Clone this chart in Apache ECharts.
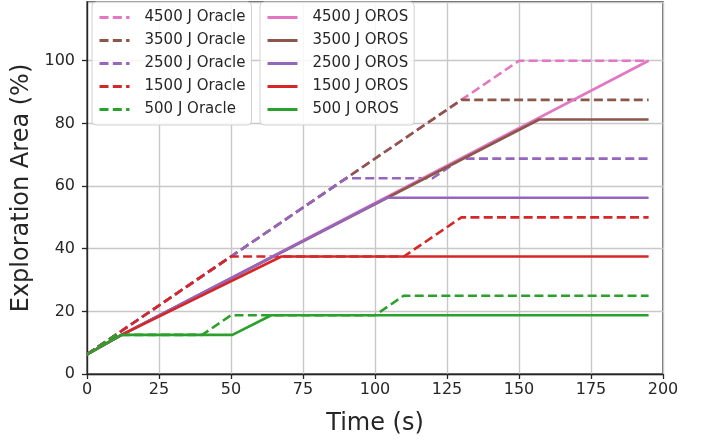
<!DOCTYPE html>
<html>
<head>
<meta charset="utf-8">
<script src="https://cdn.jsdelivr.net/npm/echarts@6/dist/echarts.min.js"></script>
<style>
  html, body { margin: 0; padding: 0; background: #fff; }
  #main { width: 708px; height: 441px; }
</style>
</head>
<body>
<div id="main"></div>
<script>
// time (s) / area (%) breakpoints
var oracle4500T = [0, 150, 195];
var oracle4500V = [6.25, 100, 100];
var oracle3500T = [0, 130, 195];
var oracle3500V = [6.25, 87.5, 87.5];
var oracle2500T = [0, 90, 120, 130, 195];
var oracle2500V = [6.25, 62.5, 62.5, 68.75, 68.75];
var oracle1500T = [0, 50, 110, 130, 195];
var oracle1500V = [6.25, 37.5, 37.5, 50, 50];
var oracle500T = [0, 10, 40, 50, 100, 110, 195];
var oracle500V = [6.25, 12.5, 12.5, 18.75, 18.75, 25, 25];

var oros4500T = [0, 12, 195];
var oros4500V = [6.25, 12.5, 100];
var oros3500T = [0, 12, 157, 195];
var oros3500V = [6.25, 12.5, 81.25, 81.25];
var oros2500T = [0, 12, 104, 195];
var oros2500V = [6.25, 12.5, 56.25, 56.25];
var oros1500T = [0, 12, 67.5, 195];
var oros1500V = [6.25, 12.5, 37.5, 37.5];
var oros500T = [0, 12, 50.5, 64, 195];
var oros500V = [6.25, 12.5, 12.5, 18.75, 18.75];

var oracleNames = ['4500 J Oracle', '3500 J Oracle', '2500 J Oracle', '1500 J Oracle', '500 J Oracle'];
var orosNames = ['4500 J OROS', '3500 J OROS', '2500 J OROS', '1500 J OROS', '500 J OROS'];
var colors = ['#e377c2', '#8c564b', '#9467bd', '#d62728', '#2ca02c'];

var oracleData = [[oracle4500T, oracle4500V], [oracle3500T, oracle3500V], [oracle2500T, oracle2500V],
                  [oracle1500T, oracle1500V], [oracle500T, oracle500V]];
var orosData = [[oros4500T, oros4500V], [oros3500T, oros3500V], [oros2500T, oros2500V],
                [oros1500T, oros1500V], [oros500T, oros500V]];

function pairs(t, v) {
    var out = [];
    for (var i = 0; i < t.length; i++) out.push([t[i], v[i]]);
    return out;
}

var dash = [9, 4.3];
var series = [];
oracleData.forEach(function (d, i) {
    series.push({
        name: oracleNames[i], type: 'line', symbol: 'none', animation: false,
        data: pairs(d[0], d[1]),
        lineStyle: { color: colors[i], width: 2.6, type: dash },
        itemStyle: { color: colors[i] }
    });
});
orosData.forEach(function (d, i) {
    series.push({
        name: orosNames[i], type: 'line', symbol: 'none', animation: false,
        data: pairs(d[0], d[1]),
        lineStyle: { color: colors[i], width: 2.6 },
        itemStyle: { color: colors[i] }
    });
});

var txt = '#262626';
var font = 'DejaVu Sans';
var legendBase = {
    orient: 'vertical', top: 2, itemWidth: 30, itemHeight: 12, itemGap: 8,
    padding: [8, 6, 8, 6],
    itemStyle: { opacity: 0 },
    lineStyle: { width: 3 },
    backgroundColor: 'rgba(255,255,255,0.85)', borderColor: '#d0d0d0', borderWidth: 1, borderRadius: 4,
    textStyle: { color: txt, fontFamily: font, fontSize: 15, padding: [0, 0, 0, 10] }
};

var chart = echarts.init(document.getElementById('main'));
chart.setOption({
    backgroundColor: '#fff',
    color: colors,
    grid: { left: 87, right: 45, top: 2, bottom: 65, show: true, borderColor: txt, borderWidth: 1.3, backgroundColor: 'transparent' },
    legend: [
        Object.assign({}, legendBase, { left: 92, data: oracleNames }),
        Object.assign({}, legendBase, { left: 260, data: orosNames })
    ],
    xAxis: {
        type: 'value', min: 0, max: 200, interval: 25,
        name: 'Time (s)', nameLocation: 'middle', nameGap: 38,
        nameTextStyle: { color: txt, fontFamily: font, fontSize: 24 },
        axisLine: { lineStyle: { color: txt, width: 1.3 } },
        axisTick: { show: true, length: 5, lineStyle: { color: txt, width: 1.3 } },
        axisLabel: { color: txt, fontFamily: font, fontSize: 16, margin: 8 },
        splitLine: { show: true, lineStyle: { color: '#c8c8c8', width: 1.4 } }
    },
    yAxis: {
        type: 'value', min: 0, max: 118.75, interval: 20,
        name: 'Exploration Area (%)', nameLocation: 'middle', nameGap: 52, nameRotate: 90,
        nameTextStyle: { color: txt, fontFamily: font, fontSize: 24 },
        axisLine: { show: true, lineStyle: { color: txt, width: 1.3 } },
        axisTick: { show: true, length: 5, lineStyle: { color: txt, width: 1.3 } },
        axisLabel: { color: txt, fontFamily: font, fontSize: 16, margin: 12, showMaxLabel: false,
            formatter: function (v) { return v % 20 === 0 ? String(v) : ''; } },
        splitLine: { show: true, lineStyle: { color: '#c8c8c8', width: 1.4 } }
    },
    series: series
});
</script>
</body>
</html>
